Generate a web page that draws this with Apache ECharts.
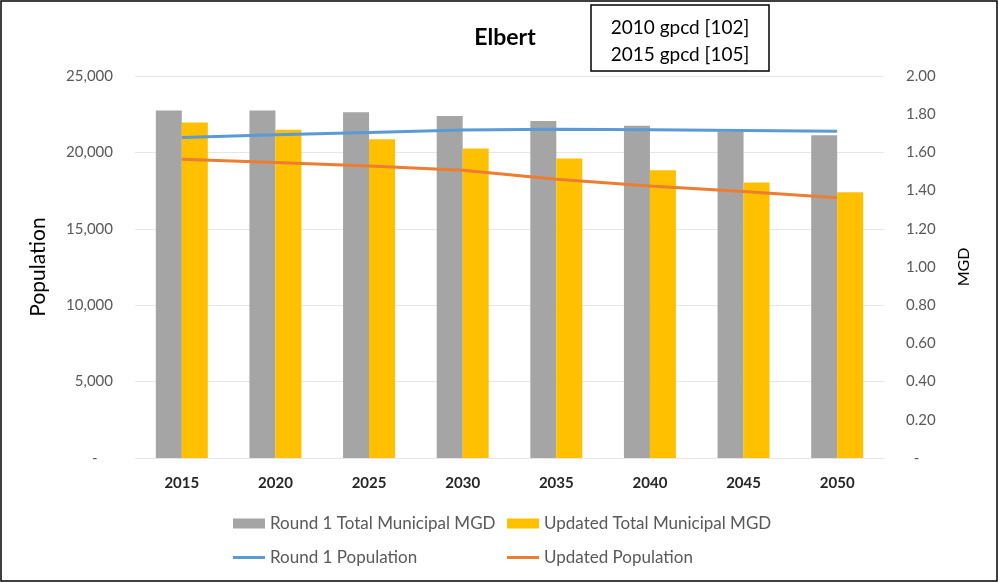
<!DOCTYPE html>
<html>
<head>
<meta charset="utf-8">
<script src="https://cdn.jsdelivr.net/npm/echarts@6/dist/echarts.min.js"></script>
<style>
  html, body { margin: 0; padding: 0; background: #fff; }
  #chart { width: 999px; height: 583px; }
</style>
</head>
<body>
<div id="chart"></div>
<script>
// 年份
var years = ['2015', '2020', '2025', '2030', '2035', '2040', '2045', '2050']
// MGD（右轴）
var round1Mgd = [1.82, 1.82, 1.81, 1.79, 1.765, 1.74, 1.71, 1.69]
var updatedMgd = [1.757, 1.718, 1.669, 1.62, 1.568, 1.507, 1.442, 1.391]
// 人口（左轴）
var round1Pop = [20980, 21150, 21310, 21460, 21520, 21480, 21440, 21390]
var updatedPop = [19555, 19340, 19115, 18830, 18240, 17800, 17435, 17040]

var font = 'Lato, "Open Sans", sans-serif'
var labelColor = '#595959'

var myChart = echarts.init(document.getElementById('chart'))

function legendItem (name, left, top, h) {
  return {
    data: [name],
    left: left,
    top: top,
    itemWidth: 32,
    itemHeight: h,
    icon: 'rect',
    itemGap: 0,
    textStyle: { color: labelColor, fontFamily: font, fontSize: 17 }
  }
}

myChart.setOption({
  animation: false,
  title: {
    text: 'Elbert',
    left: 500,
    textAlign: 'center',
    top: 21,
    textStyle: { fontFamily: font, fontWeight: 'bold', fontSize: 23, color: '#000' }
  },
  legend: [
    legendItem('Round 1 Total Municipal MGD', 228, 510, 10),
    legendItem('Updated Total Municipal MGD', 502, 510, 10),
    legendItem('Round 1 Population', 228, 544, 3),
    legendItem('Updated Population', 502, 544, 3)
  ],
  grid: {
    left: 135,
    right: 115,
    top: 76,
    bottom: 125
  },
  xAxis: {
    type: 'category',
    data: years,
    axisTick: { show: false },
    axisLine: { show: false },
    axisLabel: {
      margin: 18,
      color: '#262626',
      fontFamily: font,
      fontWeight: 'bold',
      fontSize: 15
    }
  },
  yAxis: [
    {
      type: 'value',
      min: 0,
      max: 25000,
      interval: 5000,
      name: 'Population',
      nameLocation: 'middle',
      nameGap: 86,
      nameTextStyle: { fontFamily: font, fontSize: 21, color: '#000' },
      axisLine: { show: false },
      axisTick: { show: false },
      axisLabel: {
        margin: 22,
        color: labelColor,
        fontFamily: font,
        fontSize: 15,
        formatter: function (v) {
          return v === 0 ? '-    ' : v.toLocaleString('en-US')
        }
      },
      splitLine: { lineStyle: { color: '#e6e6e6' } }
    },
    {
      type: 'value',
      min: 0,
      max: 2,
      interval: 0.2,
      name: 'MGD',
      nameLocation: 'middle',
      nameGap: 72,
      nameTextStyle: { fontFamily: font, fontSize: 16, color: '#000' },
      axisLine: { show: false },
      axisTick: { show: false },
      axisLabel: {
        margin: 22,
        color: labelColor,
        fontFamily: font,
        fontSize: 15,
        formatter: function (v) {
          return v === 0 ? '  -' : v.toFixed(2)
        }
      },
      splitLine: { show: false }
    }
  ],
  series: [
    {
      name: 'Round 1 Total Municipal MGD',
      type: 'bar',
      yAxisIndex: 1,
      barWidth: 26,
      barGap: '0%',
      itemStyle: { color: '#A5A5A5' },
      data: round1Mgd
    },
    {
      name: 'Updated Total Municipal MGD',
      type: 'bar',
      yAxisIndex: 1,
      barWidth: 26,
      barGap: '0%',
      itemStyle: { color: '#FFC000' },
      data: updatedMgd
    },
    {
      name: 'Round 1 Population',
      type: 'line',
      yAxisIndex: 0,
      showSymbol: false,
      symbol: 'none',
      z: 5,
      itemStyle: { color: '#5B9BD5' },
      lineStyle: { color: '#5B9BD5', width: 3 },
      data: round1Pop
    },
    {
      name: 'Updated Population',
      type: 'line',
      yAxisIndex: 0,
      showSymbol: false,
      symbol: 'none',
      z: 5,
      itemStyle: { color: '#ED7D31' },
      lineStyle: { color: '#ED7D31', width: 3 },
      data: updatedPop
    }
  ],
  graphic: [
    {
      type: 'rect',
      shape: { x: 1, y: 1, width: 996, height: 580 },
      style: { fill: 'none', stroke: '#000', lineWidth: 1.5 },
      silent: true
    },
    {
      type: 'rect',
      shape: { x: 591, y: 5, width: 178, height: 66 },
      style: { fill: '#fff', stroke: '#000', lineWidth: 1.5 }
    },
    {
      type: 'text',
      x: 680,
      y: 41,
      style: {
        text: '2010 gpcd [102]\n2015 gpcd [105]',
        align: 'center',
        verticalAlign: 'middle',
        lineHeight: 27,
        font: '19px ' + font,
        fill: '#000'
      }
    }
  ]
})
</script>
</body>
</html>
